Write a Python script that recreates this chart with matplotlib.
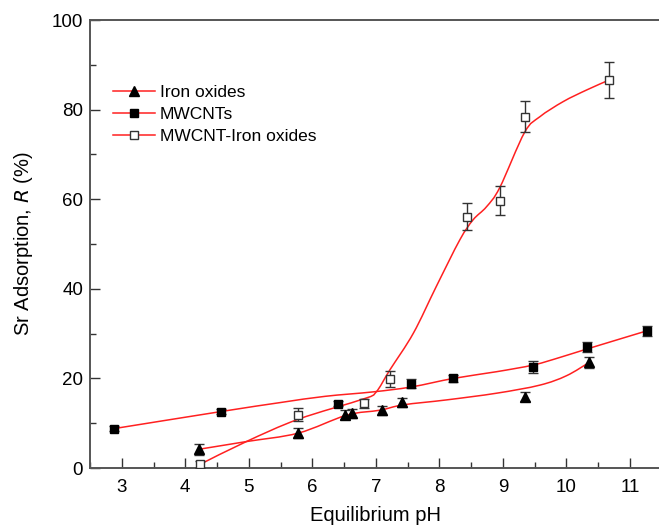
import matplotlib
matplotlib.use('Agg')
import matplotlib.pyplot as plt
from matplotlib.lines import Line2D
from matplotlib.path import Path
from matplotlib.patches import PathPatch
from matplotlib.ticker import MultipleLocator

plt.rcParams['font.family'] = ['Liberation Sans', 'DejaVu Sans']

# measured points
iron_ph = [4.22, 5.78, 6.52, 6.63, 7.10, 7.41, 9.34, 10.36]
iron_r = [4.2, 7.8, 11.9, 12.2, 12.9, 14.7, 15.9, 23.6]
iron_err = [1.2, 1.2, 1.0, 1.0, 1.0, 1.0, 1.0, 1.2]

mwcnt_ph = [2.88, 4.56, 6.41, 7.56, 8.22, 9.47, 10.33, 11.26]
mwcnt_r = [8.8, 12.6, 14.4, 18.8, 20.0, 22.5, 27.0, 30.6]
mwcnt_err = [0.5, 0.5, 0.6, 1.0, 0.8, 1.3, 1.2, 1.2]

mix_ph = [4.23, 5.77, 6.81, 7.22, 8.44, 8.96, 9.35, 10.67]
mix_r = [0.8, 11.9, 14.5, 19.8, 56.1, 59.7, 78.4, 86.6]
mix_err = [0.8, 1.4, 1.0, 1.8, 3.0, 3.2, 3.5, 4.0]

# smooth fit curves, guide points
iron_fit_ph = [4.22, 4.96, 5.78, 6.54, 7.06, 7.43, 8.11, 8.90, 9.58, 10.00, 10.36]
iron_fit_r = [4.2, 5.9, 7.8, 11.8, 12.9, 14.1, 15.2, 16.7, 18.5, 20.6, 23.6]

mwcnt_fit_ph = [2.88, 4.56, 5.49, 6.20, 6.96, 7.56, 8.22, 8.90, 9.48, 9.90, 10.33, 11.26]
mwcnt_fit_r = [8.8, 12.6, 14.6, 16.0, 17.0, 18.1, 20.0, 21.5, 23.0, 24.7, 26.6, 30.6]

mix_fit_ph = [4.23, 4.96, 5.78, 6.80, 7.00, 7.22, 7.59, 7.95, 8.32, 8.53, 8.74, 8.95,
              9.34, 9.58, 9.95, 10.32, 10.67]
mix_fit_r = [0.8, 5.9, 10.9, 15.4, 16.9, 21.9, 30.1, 40.5, 50.9, 55.4, 58.3, 62.6,
             74.9, 78.4, 81.8, 84.4, 86.6]


def smooth_path(xs, ys):
    pts = list(zip(xs, ys))
    verts = [pts[0]]
    codes = [Path.MOVETO]
    n = len(pts)
    for i in range(n - 1):
        p0 = pts[max(i - 1, 0)]
        p1 = pts[i]
        p2 = pts[i + 1]
        p3 = pts[min(i + 2, n - 1)]
        c1 = (p1[0] + (p2[0] - p0[0]) / 6, p1[1] + (p2[1] - p0[1]) / 6)
        c2 = (p2[0] - (p3[0] - p1[0]) / 6, p2[1] - (p3[1] - p1[1]) / 6)
        verts += [c1, c2, p2]
        codes += [Path.CURVE4] * 3
    return Path(verts, codes)


fig = plt.figure(figsize=(6.59, 5.28), dpi=100)
ax = fig.add_axes([0.1366, 0.1136, 0.8676, 0.8485])

red = '#ff2020'
grey = '#333333'

for fx, fy in [(iron_fit_ph, iron_fit_r), (mwcnt_fit_ph, mwcnt_fit_r), (mix_fit_ph, mix_fit_r)]:
    ax.add_patch(PathPatch(smooth_path(fx, fy), facecolor='none', edgecolor=red, lw=1.1, zorder=2))

ax.errorbar(iron_ph, iron_r, yerr=iron_err, fmt='^', ms=7, mfc='black', mec='black',
            ecolor=grey, elinewidth=1.0, capsize=3.5, capthick=1.0, zorder=3)
ax.errorbar(mwcnt_ph, mwcnt_r, yerr=mwcnt_err, fmt='s', ms=6, mfc='black', mec='black',
            ecolor=grey, elinewidth=1.0, capsize=3.5, capthick=1.0, zorder=3)
ax.errorbar(mix_ph, mix_r, yerr=mix_err, fmt='s', ms=6, mfc='white', mec=grey, mew=1.0,
            ecolor=grey, elinewidth=1.0, capsize=3.5, capthick=1.0, zorder=3)

ax.set_xlim(2.5, 11.5)
ax.set_ylim(0, 100)
ax.xaxis.set_major_locator(MultipleLocator(1))
ax.xaxis.set_minor_locator(MultipleLocator(0.5))
ax.yaxis.set_major_locator(MultipleLocator(20))
ax.yaxis.set_minor_locator(MultipleLocator(10))
ax.tick_params(which='both', direction='in', color=grey, width=1.0, labelsize=13.5, pad=5)
ax.tick_params(which='major', length=7)
ax.tick_params(which='minor', length=4)
ax.tick_params(axis='x', pad=8)
for s in ax.spines.values():
    s.set_color('#555555')
    s.set_linewidth(1.4)

ax.set_xlabel('Equilibrium pH', fontsize=14.5, labelpad=7)
ax.set_ylabel('Sr Adsorption, $\\mathit{R}$ (%)', fontsize=14.5, labelpad=12)

handles = [
    Line2D([], [], color=red, lw=1.1, marker='^', ms=7, mfc='black', mec='black'),
    Line2D([], [], color=red, lw=1.1, marker='s', ms=6, mfc='black', mec='black'),
    Line2D([], [], color=red, lw=1.1, marker='s', ms=6, mfc='white', mec=grey),
]
ax.legend(handles, ['Iron oxides', 'MWCNTs', 'MWCNT-Iron oxides'], loc='upper left',
          bbox_to_anchor=(0.040, 0.855), frameon=False, fontsize=12.5, handlelength=2.4,
          labelspacing=0.4, handletextpad=0.3, borderpad=0, borderaxespad=0)

fig.savefig('out.png', dpi=100)
